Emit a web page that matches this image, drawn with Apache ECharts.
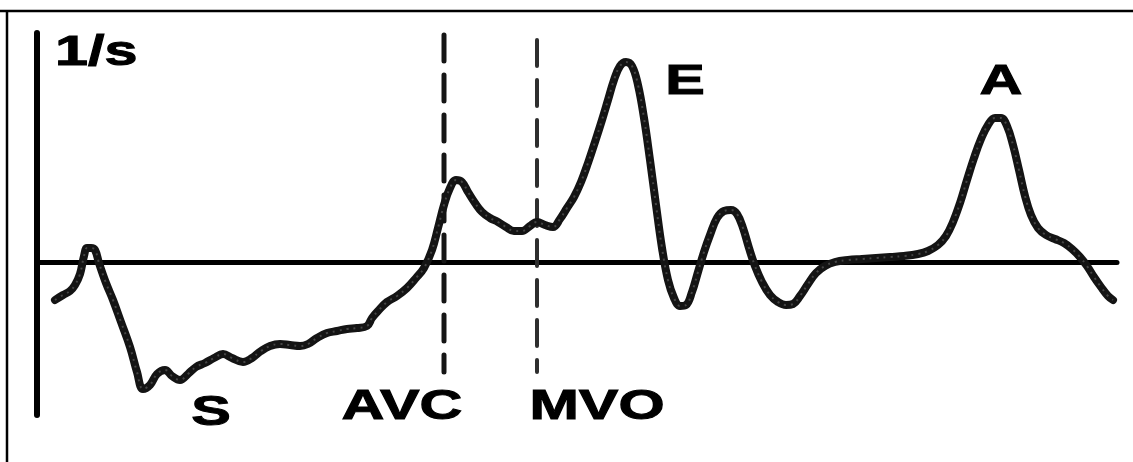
<!DOCTYPE html>
<html>
<head>
<meta charset="utf-8">
<script src="https://cdn.jsdelivr.net/npm/echarts@6/dist/echarts.min.js"></script>
<style>
  html, body { margin: 0; padding: 0; background: #fff; }
  #chart { width: 1133px; height: 462px; }
</style>
</head>
<body>
<div id="chart"></div>
<script>
// Strain-rate trace over one cardiac cycle: time in ms, rate in 1/s
const timeMs = [18, 26, 33, 38, 43, 47, 50, 54, 58, 62, 69, 76, 84, 93, 100, 106, 113, 120, 128, 135, 143, 151, 159, 168, 177, 186, 195, 206, 215, 224, 233, 243, 253, 263, 271, 280, 290, 300, 310, 320, 330, 335, 341, 350, 360, 370, 379, 387, 395, 401, 407, 413, 419, 425, 431, 438, 445, 453, 461, 469, 477, 485, 493, 500, 508, 516, 523, 530, 537, 544, 551, 558, 565, 571, 577, 583, 589, 595, 601, 607, 613, 619, 625, 631, 637, 643, 649, 655, 661, 667, 673, 680, 687, 694, 700, 706, 712, 718, 725, 733, 741, 749, 756, 763, 771, 779, 788, 798, 811, 825, 839, 853, 867, 881, 891, 901, 909, 916, 923, 930, 937, 944, 951, 958, 964, 970, 976, 982, 988, 994, 1001, 1009, 1018, 1027, 1035, 1043, 1050, 1057, 1064, 1071, 1076];
const strainRate = [-0.38, -0.33, -0.29, -0.23, -0.12, 0.06, 0.14, 0.14, 0.12, -0.01, -0.21, -0.38, -0.60, -0.85, -1.10, -1.27, -1.23, -1.12, -1.08, -1.14, -1.18, -1.12, -1.05, -1.01, -0.96, -0.92, -0.96, -1.00, -0.96, -0.89, -0.84, -0.82, -0.83, -0.84, -0.82, -0.76, -0.71, -0.69, -0.67, -0.66, -0.64, -0.56, -0.49, -0.40, -0.34, -0.26, -0.16, -0.06, 0.12, 0.34, 0.57, 0.74, 0.82, 0.80, 0.70, 0.59, 0.50, 0.44, 0.40, 0.35, 0.31, 0.31, 0.36, 0.40, 0.37, 0.35, 0.43, 0.54, 0.65, 0.80, 0.99, 1.20, 1.42, 1.62, 1.82, 1.96, 2.00, 1.96, 1.77, 1.44, 1.02, 0.57, 0.14, -0.18, -0.36, -0.44, -0.43, -0.30, -0.10, 0.10, 0.27, 0.44, 0.51, 0.52, 0.48, 0.34, 0.14, -0.04, -0.20, -0.33, -0.40, -0.43, -0.42, -0.34, -0.22, -0.11, -0.04, 0.00, 0.02, 0.03, 0.04, 0.05, 0.06, 0.08, 0.11, 0.17, 0.26, 0.40, 0.59, 0.82, 1.04, 1.23, 1.37, 1.44, 1.44, 1.36, 1.17, 0.92, 0.66, 0.47, 0.34, 0.27, 0.23, 0.19, 0.13, 0.05, -0.04, -0.15, -0.25, -0.34, -0.38];

// Valve events (ms) with the vertical extent of their dashed markers (1/s)
const eventNames = ['AVC', 'MVO'];
const eventTimes = [407, 500];
const eventTop = [2.27, 2.22];
const eventBottom = [-1.10, -1.10];

// Annotation texts and their anchor positions [ms, 1/s]
const labelTexts = ['1/s', 'S', 'AVC', 'MVO', 'E', 'A'];
const labelAnchors = [[18, 2.085], [174, -1.51], [365, -1.455], [560, -1.45], [648, 1.80], [964, 1.795]];
const labelAligns = ['left', 'center', 'center', 'center', 'center', 'center'];

const trace = timeMs.map((t, i) => [t, strainRate[i]]);

const chart = echarts.init(document.getElementById('chart'), null, { renderer: 'canvas' });

const eventSeries = eventNames.map((name, i) => ({
  name: name,
  type: 'line',
  data: [[eventTimes[i], eventTop[i]], [eventTimes[i], eventBottom[i]]],
  symbol: 'none',
  silent: true,
  z: 3,
  lineStyle: { color: i === 0 ? '#151515' : '#2e2e2e', width: i === 0 ? 5 : 4, type: [26, 14], cap: 'round' }
}));

chart.setOption({
  animation: false,
  backgroundColor: '#ffffff',
  grid: { left: 37, right: 16, top: 33, bottom: 47, containLabel: false },
  xAxis: {
    type: 'value', min: 0, max: 1080,
    axisLine: { show: true, onZero: true, lineStyle: { color: '#000', width: 5 } },
    axisTick: { show: false }, axisLabel: { show: false }, splitLine: { show: false }
  },
  yAxis: {
    type: 'value', min: -1.53, max: 2.29,
    axisLine: { show: true, onZero: false, lineStyle: { color: '#000', width: 6, cap: 'round' } },
    axisTick: { show: false }, axisLabel: { show: false }, splitLine: { show: false }
  },
  series: [
    ...eventSeries,
    {
      name: 'strain rate',
      type: 'line',
      data: trace,
      smooth: 0.4,
      symbol: 'none',
      z: 4,
      lineStyle: { color: '#141414', width: 8, cap: 'round', join: 'round' }
    },
    {
      name: 'strain rate texture',
      type: 'line',
      data: trace,
      smooth: 0.4,
      symbol: 'none',
      silent: true,
      z: 5,
      lineStyle: { color: 'rgba(110,110,110,0.55)', width: 2, type: [2, 5] }
    }
  ]
});

// Frame lines and bold annotations
const graphics = [
  { type: 'line', shape: { x1: 0, y1: 11, x2: 1133, y2: 11 }, style: { stroke: '#000', lineWidth: 2.5 } },
  { type: 'line', shape: { x1: 7, y1: 11, x2: 7, y2: 462 }, style: { stroke: '#000', lineWidth: 2.5 } }
];
labelTexts.forEach((txt, i) => {
  const p = chart.convertToPixel({ gridIndex: 0 }, labelAnchors[i]);
  graphics.push({
    type: 'text',
    x: p[0], y: p[1],
    scaleX: 1.38, scaleY: 1,
    z: 10,
    style: {
      text: txt,
      fill: '#000',
      stroke: '#000',
      lineWidth: 1,
      font: 'bold 43px "Liberation Sans", Arial, sans-serif',
      textAlign: labelAligns[i],
      textVerticalAlign: 'middle'
    }
  });
});
chart.setOption({ graphic: graphics });
</script>
</body>
</html>
